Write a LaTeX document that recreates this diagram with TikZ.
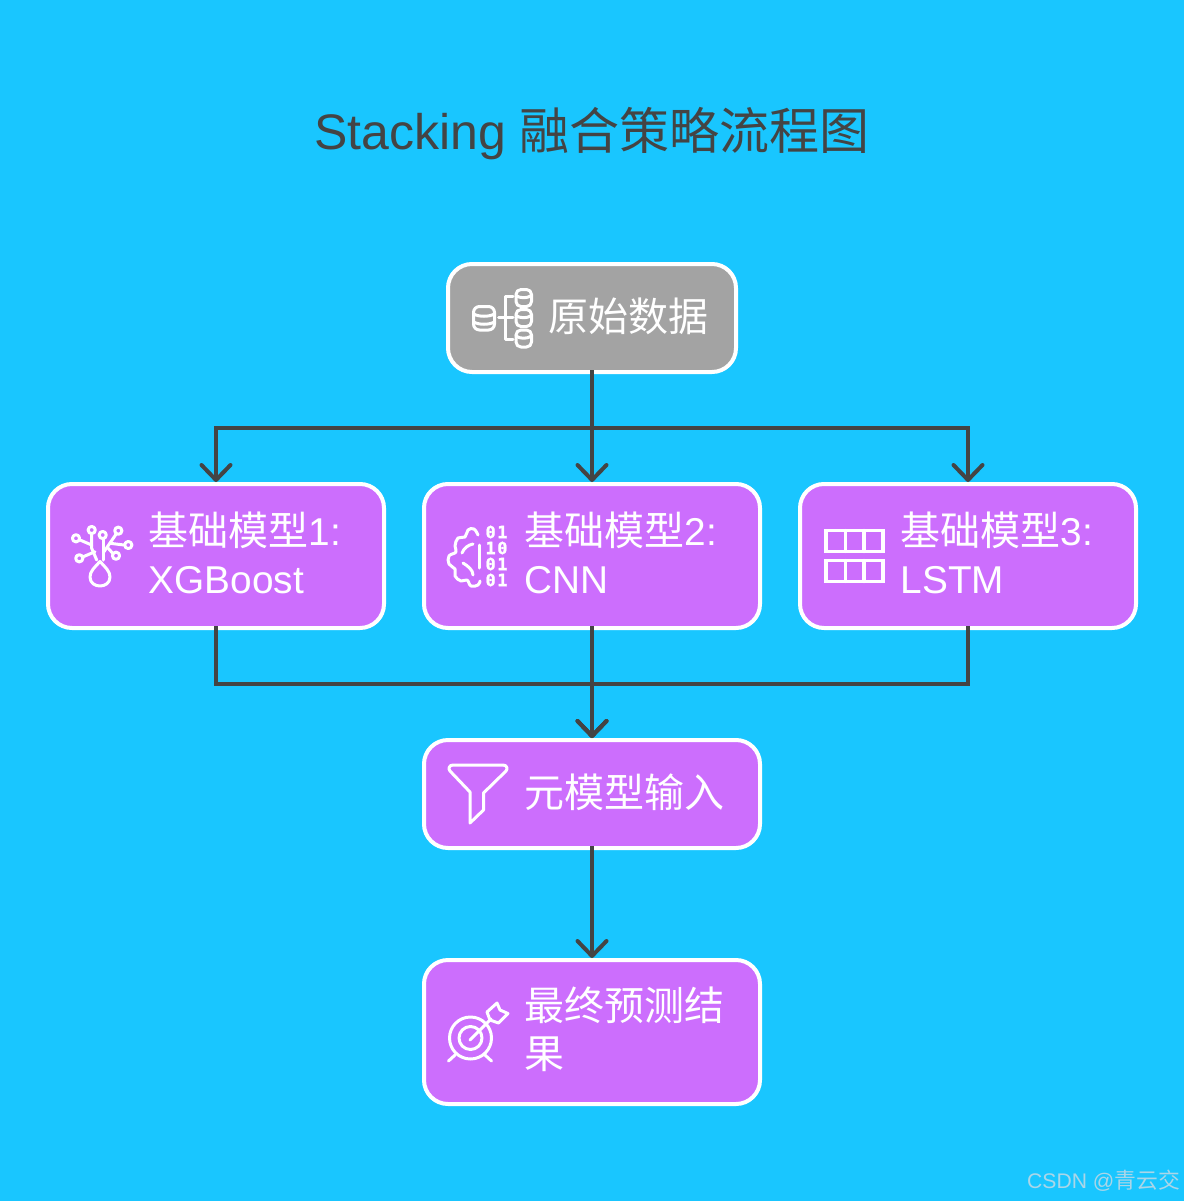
\documentclass[tikz,border=0pt]{standalone}
\usepackage{fontspec}
\setmainfont[Scale=0.97]{Liberation Sans}
\newfontfamily\cjk{Noto Sans CJK SC}
\newfontfamily\binfont[BoldFeatures={FakeBold=1.2}]{DejaVu Sans Mono}
\usetikzlibrary{arrows.meta,calc}
\definecolor{bgc}{RGB}{25,198,255}
\definecolor{purp}{RGB}{204,110,253}
\definecolor{gry}{RGB}{163,163,163}
\definecolor{ink}{RGB}{68,68,68}
\definecolor{wm}{RGB}{170,214,232}
\tikzset{
  boxnode/.style={draw=white,line width=4pt,rounded corners=24pt,inner sep=0pt,outer sep=0pt,fill=purp},
  wide/.style={boxnode,minimum width=336pt},
  lbl/.style={text=white,anchor=west,align=left,inner sep=0pt,font=\fontsize{40}{48}\selectfont},
  conn/.style={draw=ink,line width=4pt,shorten <=-2pt,shorten >=2pt},
  arr/.style={conn,-{Straight Barb[length=15pt,width=29pt,round]}},
  icon/.style={draw=white,line width=3pt,line cap=round,line join=round},
  bit/.style={text=white,inner sep=0pt,font=\binfont\bfseries\fontsize{17}{17}\selectfont},
}
\begin{document}
\begin{tikzpicture}[x=1pt,y=-1pt]
\useasboundingbox (0,0) rectangle (1184,1201);
\fill[bgc] (0,0) rectangle (1184,1201);

\node[text=ink,inner sep=0pt,font=\fontsize{51.5}{60}\selectfont] (title) at (592,134) {Stacking {\fontsize{50}{60}\selectfont\cjk 融合策略流程图}};

\node[boxnode,fill=gry,minimum width=288pt,minimum height=108pt] (top) at (592,318) {};
\node[wide,minimum height=144pt] (b1) at (216,556) {};
\node[wide,minimum height=144pt] (b2) at (592,556) {};
\node[wide,minimum height=144pt] (b3) at (968,556) {};
\node[wide,minimum height=108pt] (meta) at (592,794) {};
\node[wide,minimum height=144pt] (final) at (592,1032) {};

\node[lbl] (ltop) at (548,316) {\cjk 原始数据};
\node[lbl] (l1) at (148.5,553) {{\cjk 基础模型}1:\\XGBoost};
\node[lbl] (l2) at (524.5,553) {{\cjk 基础模型}2:\\CNN};
\node[lbl] (l3) at (900.5,553) {{\cjk 基础模型}3:\\LSTM};
\node[lbl] (lmeta) at (524.5,792) {\cjk 元模型输入};
\node[lbl] (lfinal) at (524.5,1029) {{\cjk 最终预测结}\\{\cjk 果}};

\node[text=wm,anchor=east,inner sep=0pt,font=\fontsize{21.8}{26}\selectfont] (mark) at (1180,1181) {CSDN @{\cjk 青云交}};

\coordinate (bus1) at (592,428);
\coordinate (bus2) at (592,684);
\draw[arr] (top.south) -- (b2.north);
\draw[arr] (top.south) -- (bus1) -| (b1.north);
\draw[arr] (top.south) -- (bus1) -| (b3.north);
\draw[arr] (b2.south) -- (meta.north);
\draw[arr] (b1.south) |- (bus2) -- (meta.north);
\draw[arr] (b3.south) |- (bus2) -- (meta.north);
\draw[arr] (meta.south) -- (final.north);

% database icon
\begin{scope}[icon]
\draw[rounded corners=6pt] (473.5,306.5) rectangle (494.5,330);
\draw (473.5,314) .. controls (479,317) and (489,317) .. (494.5,314);
\draw (473.5,322) .. controls (479,325) and (489,325) .. (494.5,322);
\foreach \yy in {289.5,309.5,330}{
  \draw[rounded corners=5pt] (516,\yy) rectangle (531.5,\yy+17);
  \draw (516,\yy+6) .. controls (520,\yy+9) and (527,\yy+9) .. (531.5,\yy+6);
}
\draw (513,296) -- (505.5,296) -- (505.5,339.5) -- (513,339.5);
\draw (498.5,317.5) -- (513,317.5);
\end{scope}

% tree icon
\begin{scope}[icon]
\draw (100,561.5) .. controls (105,567) and (110,571) .. (110,577) .. controls (110,583) and (105,586) .. (100,586) .. controls (95,586) and (90,583) .. (90,577) .. controls (90,571) and (95,567) .. (100,561.5) -- cycle;
\draw (96.7,560) -- (91.7,548.3) -- (91.7,534);
\draw (91.7,545) -- (80,540);
\draw (95,551.7) -- (83.3,556.7);
\draw (103.3,560) -- (103.3,539);
\draw (104,551.7) -- (116,534.3);
\draw (110,543.3) -- (124,545);
\draw (108.3,548.3) -- (113.3,554);
\foreach \cx/\cy in {91.7/530,76/538.3,79.3/558.3,102.7/535,118.3/530.7,128.3/545,116/555.7}
  \draw (\cx,\cy) circle (3.6pt);
\end{scope}

% brain icon
\begin{scope}[icon]
\draw plot[smooth,tension=0.7] coordinates {(478,535) (474,529) (468,530) (465,537) (458,538) (455,546) (456,552) (449,556) (449,564) (455,569) (455,576) (461,581) (467,580) (471,586) (478,585) (480,581)};
\draw (479.5,545) -- (479.5,568);
\draw (462,553) .. controls (464,548) and (468,545) .. (473,544);
\draw (463,563) .. controls (468,566) and (473,570) .. (473,575);
\end{scope}
\node[bit] (d1) at (496.5,532) {0\kern1.5pt 1};
\node[bit] (d2) at (496.5,548) {1\kern1.5pt 0};
\node[bit] (d3) at (496.5,564) {0\kern1.5pt 1};
\node[bit] (d4) at (496.5,580) {0\kern1.5pt 1};

% table icon
\begin{scope}[icon,line width=3.3pt,line join=miter]
\draw (826,530.5) rectangle (883,551.5);
\draw (826,560.5) rectangle (883,581.5);
\draw (845.5,530.5) -- (845.5,551.5);
\draw (864,530.5) -- (864,551.5);
\draw (845.5,560.5) -- (845.5,581.5);
\draw (864,560.5) -- (864,581.5);
\end{scope}

% funnel icon
\draw[icon] (453,765) -- (503,765) .. controls (507,765) and (508,769) .. (506,771) -- (483.5,793) -- (483.5,810) -- (470,823) -- (470,792) -- (450,771) .. controls (448,769) and (449,765) .. (453,765) -- cycle;

% target icon
\begin{scope}[icon]
\draw (470.5,1038) circle (21pt);
\draw (470.5,1038) circle (11.5pt);
\draw (470,1040) -- (491,1019);
\draw (448.5,1061) -- (455,1055);
\draw (491.5,1061) -- (485,1055);
\draw (487,1012) -- (497,1003) -- (500,1010) -- (508,1013.5) -- (498.5,1023) -- (490,1020) -- cycle;
\end{scope}
\end{tikzpicture}
\end{document}
